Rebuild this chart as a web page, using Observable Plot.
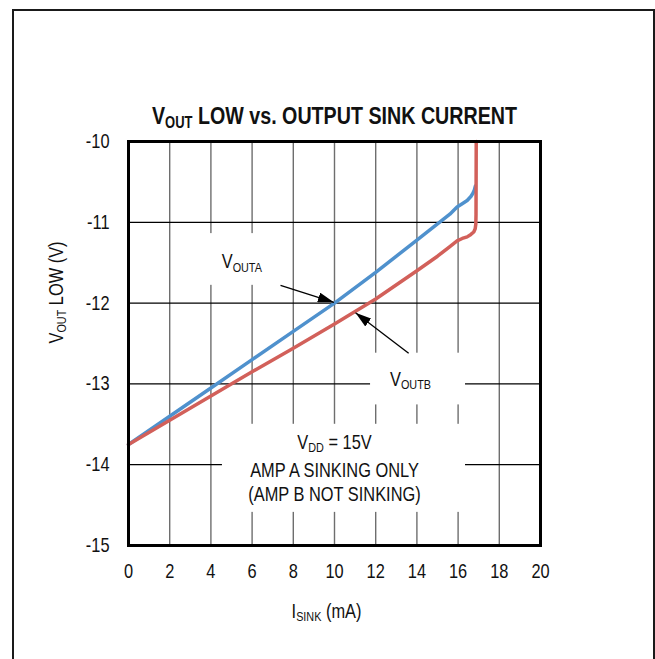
<!DOCTYPE html>
<html>
<head>
<meta charset="utf-8">
<script src="https://cdn.jsdelivr.net/npm/d3@7"></script>
<script src="https://cdn.jsdelivr.net/npm/@observablehq/plot@0.6"></script>
<style>
  html, body { margin: 0; padding: 0; background: #fff; overflow: hidden; }
  #wrap { position: relative; width: 655px; height: 659px; overflow: hidden; }
  #border { position: absolute; left: 12px; top: 9px; width: 639px; height: 720px;
            border: 2px solid #1a1a1a; pointer-events: none; }
  #chart { position: absolute; left: 0; top: 0; }
</style>
</head>
<body>
<div id="wrap"><div id="chart"></div><div id="border"></div></div>
<script>
// ---- data ----
const xTicks = [0, 2, 4, 6, 8, 10, 12, 14, 16, 18, 20];
const yTicks = [-10, -11, -12, -13, -14, -15];

const currentA = [0, 2, 4, 6, 8, 10, 12, 14, 15, 15.6, 15.95, 16.2, 16.44, 16.62, 16.72, 16.79, 16.84];
const voutA    = [-13.75, -13.4, -13.05, -12.7, -12.35, -12.0, -11.62, -11.22, -11.02, -10.9, -10.81, -10.77, -10.73, -10.68, -10.64, -10.6, -10.55];

const currentB = [0, 2, 4, 6, 8, 10, 12, 14, 15, 15.6, 15.95, 16.2, 16.44, 16.62, 16.76, 16.83, 16.86, 16.87, 16.88];
const voutB    = [-13.75, -13.45, -13.15, -12.85, -12.56, -12.26, -11.95, -11.6, -11.42, -11.3, -11.23, -11.2, -11.18, -11.15, -11.12, -11.08, -11.02, -10.9, -10.0];

const titleText = "V_{OUT} LOW vs. OUTPUT SINK CURRENT";
const xLabel = "I_{SINK} (mA)";
const yLabel = "V_{OUT} LOW (V)";
const noteLines = ["V_{DD} = 15V", "AMP A SINKING ONLY", "(AMP B NOT SINKING)"];
const seriesNames = ["V_{OUTA}", "V_{OUTB}"];

// ---- build ----
const FONT = '"Liberation Sans", Arial, sans-serif';
const NARROW = 0.82; // emulate a condensed face
const A = currentA.map((x, i) => ({x, y: voutA[i]}));
const B = currentB.map((x, i) => ({x, y: voutB[i]}));

const seriesLabels = [
  {x: 5.5, y: -11.57, t: seriesNames[0]},
  {x: 13.69, y: -13.02, t: seriesNames[1]}
];
const notes = [
  {x: 10, y: -13.8, t: noteLines[0]},
  {x: 10, y: -14.15, t: noteLines[1]},
  {x: 10, y: -14.45, t: noteLines[2]}
];
const boxes = [
  {x1: 2.52, x2: 7.62, y1: -11.14, y2: -11.78},
  {x1: 11.75, x2: 16.36, y1: -12.62, y2: -13.26},
  {x1: 4.56, x2: 16.36, y1: -13.5, y2: -14.59}
];
const arrows = [
  {x1: 7.38, y1: -11.78, x2: 9.97, y2: -11.99},
  {x1: 13.6, y1: -12.62, x2: 11.02, y2: -12.12}
];

const plot = Plot.plot({
  width: 655, height: 659,
  marginLeft: 128, marginRight: 115, marginTop: 141, marginBottom: 114,
  x: {domain: [0, 20]},
  y: {domain: [-15, -10]},
  style: {fontFamily: FONT, fontSize: "20px", color: "#111", background: "transparent"},
  marks: [
    Plot.gridX({ticks: xTicks, stroke: "#6e6e6e", strokeOpacity: 1, strokeWidth: 1.4}),
    Plot.gridY({ticks: yTicks, stroke: "#000", strokeOpacity: 1, strokeWidth: 1.2}),
    Plot.rect(boxes, {x1: "x1", x2: "x2", y1: "y1", y2: "y2", fill: "white"}),
    Plot.line(A, {x: "x", y: "y", stroke: "#4f91cd", strokeWidth: 3.5, strokeLinejoin: "round", strokeLinecap: "round"}),
    Plot.line(B, {x: "x", y: "y", stroke: "#d2605a", strokeWidth: 3.5, strokeLinejoin: "round", strokeLinecap: "round"}),
    Plot.link(arrows, {x1: "x1", y1: "y1", x2: "x2", y2: "y2", stroke: "#000", strokeWidth: 1.3}),
    Plot.text(seriesLabels, {x: "x", y: "y", text: "t", lineAnchor: "bottom", textAnchor: "middle", fontSize: 20}),
    Plot.text(notes, {x: "x", y: "y", text: "t", lineAnchor: "bottom", textAnchor: "middle", fontSize: 20}),
    Plot.frame({stroke: "#000", strokeWidth: 3}),
    Plot.axisX({ticks: xTicks, tickSize: 0, tickPadding: 18, tickFormat: d => String(d), label: null, fontSize: 20}),
    Plot.axisY({ticks: yTicks, tickSize: 0, tickPadding: 19, tickFormat: d => String(d), label: null, fontSize: 20}),
    Plot.text([titleText], {text: d => d, frameAnchor: "top", dy: -18, lineAnchor: "bottom", fontWeight: "bold", fontSize: 24}),
    Plot.text([xLabel], {text: d => d, frameAnchor: "bottom", dy: 72, dx: -8, lineAnchor: "bottom", fontSize: 20}),
    Plot.text([yLabel], {text: d => d, frameAnchor: "left", dx: -66, rotate: -90, lineAnchor: "bottom", fontSize: 20})
  ]
});

document.getElementById("chart").appendChild(plot);

// arrowheads (filled triangles)
const svg = d3.select(plot);
const defs = svg.append("defs");
defs.append("marker")
  .attr("id", "ahead").attr("viewBox", "0 0 16 10")
  .attr("refX", 16).attr("refY", 5)
  .attr("markerWidth", 16).attr("markerHeight", 10)
  .attr("markerUnits", "userSpaceOnUse").attr("orient", "auto")
  .append("path").attr("d", "M0,0L16,5L0,10Z").attr("fill", "#000");
svg.selectAll('g[aria-label="link"] path').attr("marker-end", "url(#ahead)");

// subscripts
svg.selectAll("text").each(function() {
  const s = this.textContent;
  if (!s.includes("_{")) return;
  const fs = parseFloat(getComputedStyle(this).fontSize) || 20;
  const parts = s.split(/(_\{[^}]*\})/).filter(p => p.length);
  const t = d3.select(this);
  t.text("");
  const shift = fs * 0.18;
  let down = false;
  for (const p of parts) {
    if (p.startsWith("_{")) {
      t.append("tspan").attr("font-size", (fs * 0.66) + "px").attr("dy", down ? 0 : shift).text(p.slice(2, -1));
      down = true;
    } else {
      t.append("tspan").attr("dy", down ? -shift : 0).text(p);
      down = false;
    }
  }
});

// condense all text horizontally (along its own baseline)
svg.selectAll("text").each(function() {
  const tr = this.getAttribute("transform");
  const x = +(this.getAttribute("x") || 0), y = +(this.getAttribute("y") || 0);
  if (x || y) {
    this.removeAttribute("x"); this.removeAttribute("y");
    this.setAttribute("transform", `${tr ? tr + " " : ""}translate(${x},${y}) scale(${NARROW},1)`);
  } else {
    this.setAttribute("transform", `${tr ? tr + " " : ""}scale(${NARROW},1)`);
  }
});
</script>
</body>
</html>
